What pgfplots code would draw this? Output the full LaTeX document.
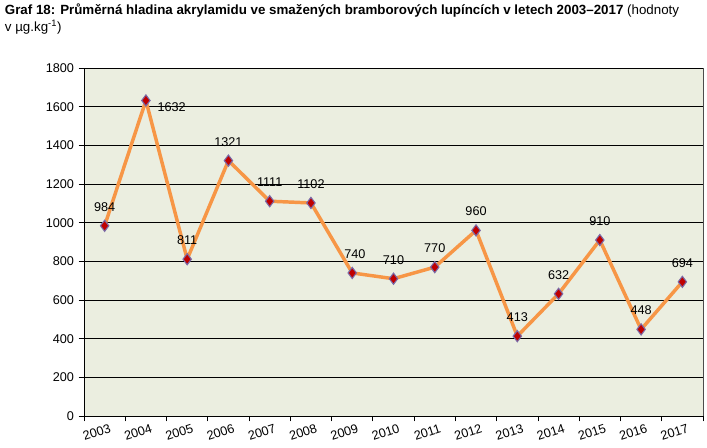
\documentclass[border=0pt]{standalone}
\usepackage{pgfplots}
\pgfplotsset{compat=1.18}
\usepackage{fontspec}
\setmainfont{Liberation Sans}
\definecolor{plotbg}{HTML}{EBEEE0}
\definecolor{lineor}{HTML}{F79646}
\definecolor{mkfill}{HTML}{C00000}
\definecolor{mkdraw}{HTML}{7A6AA8}

\begin{document}
\begin{tikzpicture}
\begin{axis}[
  name=ax,
  scale only axis,
  width=464.25pt, height=261pt,
  xmin=-0.5, xmax=14.5,
  ymin=0, ymax=1800,
  ytick={0,200,...,1800},
  xtick={0,...,14},
  xticklabels={2003,2004,2005,2006,2007,2008,2009,2010,2011,2012,2013,2014,2015,2016,2017},
  minor xtick={-0.5,0.5,...,14.5},
  major x tick style={draw=none},
  minor tick length=4pt,
  major tick length=4pt,
  tick align=outside,
  tick style={black, line width=0.6pt},
  xtick pos=bottom, ytick pos=left,
  x tick label style={rotate=18, anchor=north east, xshift=6pt, yshift=1pt},
  ymajorgrids,
  grid style={black, line width=0.6pt},
  axis background/.style={fill=plotbg},
  axis line style={line width=0.6pt},
  axis x line*=bottom,
  axis y line*=left,
  every tick label/.append style={font=\fontsize{9.5}{11}\selectfont},
  /pgf/number format/assume math mode=true,
  /pgf/number format/1000 sep={},
  clip=false,
]
\addplot[lineor, line width=2.6pt, mark=diamond*, mark size=4.2pt,
  mark options={fill=mkfill, draw=mkdraw, line width=0.8pt},
  nodes near coords, point meta=explicit symbolic,
  visualization depends on={value \thisrow{pos} \as \lpos},
  visualization depends on={\thisrow{dx} \as \ldx},
  visualization depends on={\thisrow{dy} \as \ldy},
  every node near coord/.append style={font=\fontsize{9.5}{11}\selectfont, black,
    anchor=\lpos, xshift=\ldx pt, yshift=\ldy pt},
] table[x=x, y=y, meta=m] {
x y m pos dx dy
0 984 984 south 0 7
1 1632 1632 west 5 -5
2 811 811 south 0 7
3 1321 1321 south 0 7
4 1111 1111 south 0 7
5 1102 1102 south 0 7
6 740 740 south 2 7
7 710 710 south 0 7
8 770 770 south 0 7
9 960 960 south 0 7
10 413 413 south 0 7
11 632 632 south 0 7
12 910 910 south 0 7
13 448 448 south 0 7
14 694 694 south 0 7
};
\draw[black!70, line width=0.6pt] (rel axis cs:1,0) -- (rel axis cs:1,1);
\end{axis}
\node[anchor=north west, align=left, inner sep=0pt, font=\fontsize{10}{12.5}\selectfont]
  at ([xshift=-59.5pt, yshift=48pt]ax.north west)
  {\textbf{Graf 18: Průměrná hladina akrylamidu ve smažených bramborových lupíncích v letech 2003–2017} (hodnoty\\v µg.kg\textsuperscript{-1})};
\path ([xshift=-63pt, yshift=-23.25pt]ax.south west) rectangle ([xshift=467.25pt, yshift=51pt]ax.south west |- ax.north west);
\end{tikzpicture}
\end{document}
